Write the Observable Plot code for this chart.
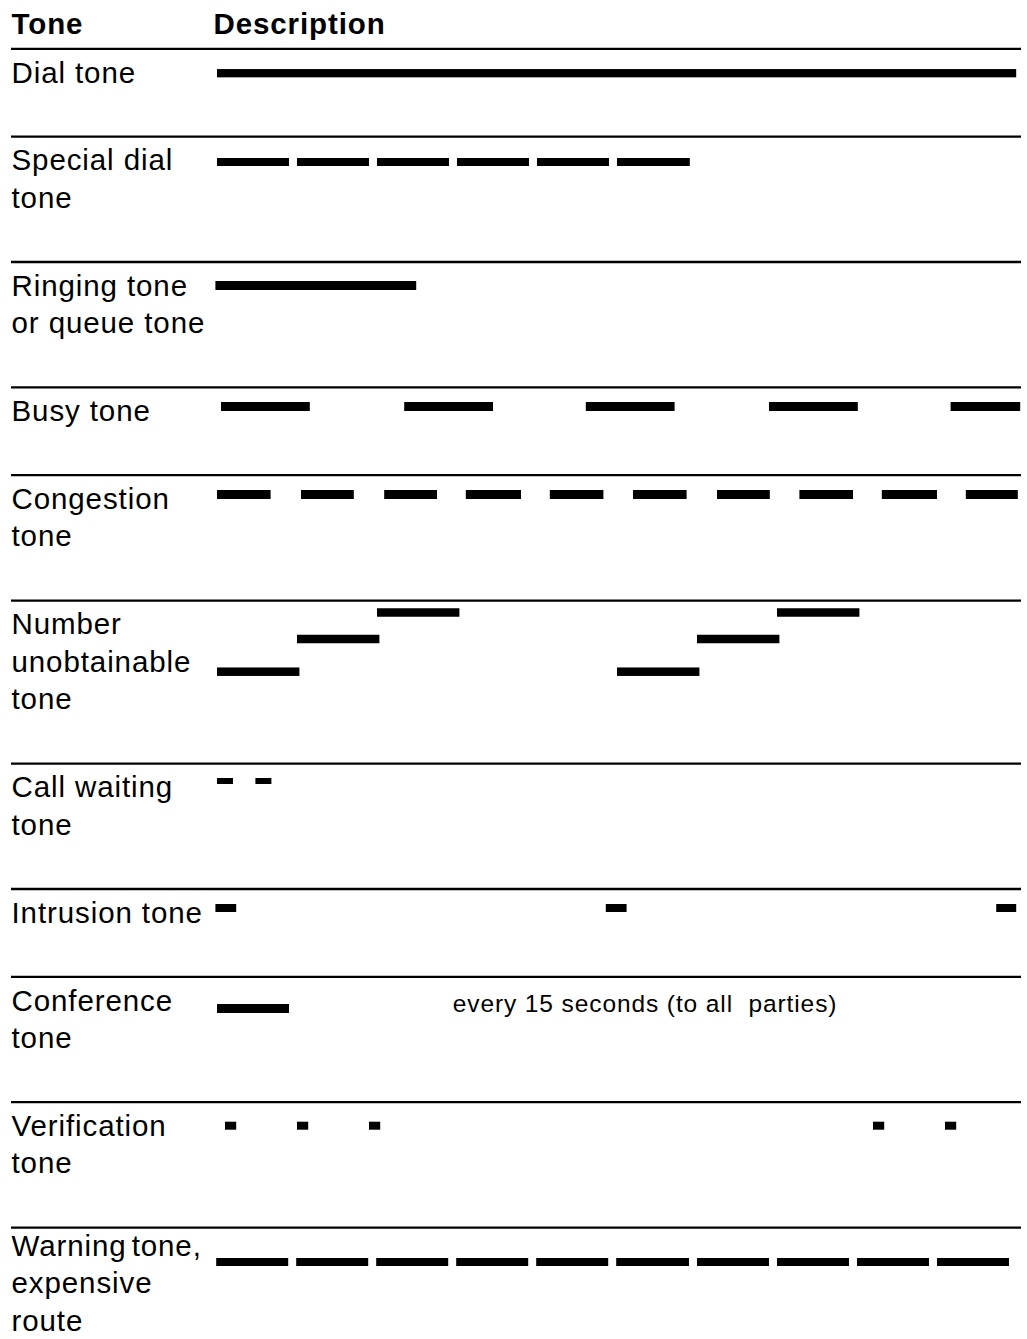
<!DOCTYPE html>
<html>
<head>
<meta charset="utf-8">
<script src="https://cdn.jsdelivr.net/npm/d3@7"></script>
<script src="https://cdn.jsdelivr.net/npm/@observablehq/plot@0.6"></script>
<style>
  html, body { margin: 0; padding: 0; background: #fff; }
  #chart svg text { letter-spacing: 0.9px; white-space: pre; }
</style>
</head>
<body>
<div id="chart"></div>
<script>
// ---------- DATA ----------
const headers = ["Tone", "Description"];

const toneLabels = [
  "Dial tone",
  "Special dial\ntone",
  "Ringing tone\nor queue tone",
  "Busy tone",
  "Congestion\ntone",
  "Number\nunobtainable\ntone",
  "Call waiting\ntone",
  "Intrusion tone",
  "Conference\ntone",
  "Verification\ntone",
  "Warning tone,\nexpensive\nroute"
];

// tone-on segments [start, end] on a common time axis (0..1000), [start, end, step] for stepped tones
const dialTone = [[0, 999]];
const specialDialTone = [[0, 90], [100, 190], [200, 290], [300, 390], [400, 490], [500, 591]];
const ringingTone = [[-2, 249]];
const busyTone = [[5, 116], [234, 345], [461, 572], [690, 801], [917, 1004]];
const congestionTone = [[0, 67], [105, 171], [209, 275], [311, 380], [416, 483], [520, 587], [625, 691], [728, 795], [831, 900], [936, 1001]];
const numberUnobtainableTone = [[0, 103, 0], [100, 203, 1], [200, 303, 2], [500, 603, 0], [600, 703, 1], [700, 803, 2]];
const callWaitingTone = [[0, 20], [48, 68]];
const intrusionTone = [[-2, 24], [486, 512], [974, 999]];
const conferenceTone = [[0, 90]];
const verificationTone = [[10, 24], [100, 114], [190, 204], [820, 834], [910, 924]];
const warningTone = [[-1, 89], [99, 189], [199, 289], [299, 389], [399, 489], [499, 590], [600, 690], [700, 790], [800, 890], [900, 990]];

const toneSegments = [
  dialTone, specialDialTone, ringingTone, busyTone, congestionTone,
  numberUnobtainableTone, callWaitingTone, intrusionTone, conferenceTone,
  verificationTone, warningTone
];

const noteText = "every 15 seconds (to all  parties)";
const noteRow = 8;      // Conference tone row
const noteStart = 294;  // on the time axis

// ---------- LAYOUT (not data) ----------
const W = 1027, H = 1339;
const fontSize = 29.5;
const noteFontSize = 24.5;
const headerBaseline = 33;
const firstRule = 48.3;
const rowPad = 50.2;
const rowLineStep = 37.6;
const labelBaseline = 33.7;
const labelLineStep = 37.2;
const barDy = [24.9, 25.9, 24, 19.6, 19.8, 71.6, 17.9, 19.5, 32.2, 24, 34.9];
const stepDy = [0, -32.7, -59.2];
const labelDy = [0, 0, 0, 0, 0, 0, 0, 0, 0, 0, -5.1];
const barH = [8.3, 8, 9, 9, 9, 8.5, 6, 8, 9, 8, 8];

// ---------- BUILD ----------
const rows = toneLabels.map((label, i) => ({label, lines: label.split("\n").length, i}));
let acc = firstRule;
for (const r of rows) { r.top = acc; acc += rowPad + rowLineStep * r.lines; }

const bars = rows.flatMap((r) => toneSegments[r.i].map(([start, end, step = 0]) => {
  const yc = r.top + barDy[r.i] + stepDy[step];
  return {tone: r.label, start, end, y1: yc - barH[r.i] / 2, y2: yc + barH[r.i] / 2};
}));

const firstBaseline = (r) => r.top + labelBaseline + labelDy[r.i];

const chart = Plot.plot({
  width: W,
  height: H,
  marginLeft: 11,
  marginRight: 6,
  marginTop: 0,
  marginBottom: 0,
  x: {domain: [0, 1000], range: [217, 1017], axis: null},
  y: {domain: [0, H], range: [0, H], axis: null},
  style: {fontFamily: "'Liberation Sans', Arial, Helvetica, sans-serif", background: "white", color: "black"},
  marks: [
    Plot.ruleY(rows, {y: "top", stroke: "black", strokeWidth: 2.3}),
    Plot.rect(bars, {x1: "start", x2: "end", y1: "y1", y2: "y2", fill: "black"}),
    Plot.text(rows, {
      text: "label",
      frameAnchor: "left",
      y: (r) => firstBaseline(r) + (r.lines - 1) * labelLineStep,
      textAnchor: "start",
      lineAnchor: "bottom",
      lineHeight: labelLineStep / fontSize,
      fontSize,
      fill: "black"
    }),
    Plot.text([headers[0]], {
      text: (d) => d, frameAnchor: "left", y: () => headerBaseline,
      textAnchor: "start", lineAnchor: "bottom", fontWeight: "bold", fontSize, fill: "black"
    }),
    Plot.text([headers[1]], {
      text: (d) => d, x: () => 0, dx: -4, y: () => headerBaseline,
      textAnchor: "start", lineAnchor: "bottom", fontWeight: "bold", fontSize, fill: "black"
    }),
    Plot.text([noteText], {
      text: (d) => d, x: () => noteStart, y: () => firstBaseline(rows[noteRow]) + 1.2,
      textAnchor: "start", lineAnchor: "bottom", fontSize: noteFontSize, fill: "black"
    })
  ]
});

// the source sets "Warning tone," with a tight word gap
d3.select(chart).selectAll("tspan")
  .filter(function () { return this.textContent === "Warning tone,"; })
  .style("word-spacing", "-4px");

document.getElementById("chart").appendChild(chart);
</script>
</body>
</html>
